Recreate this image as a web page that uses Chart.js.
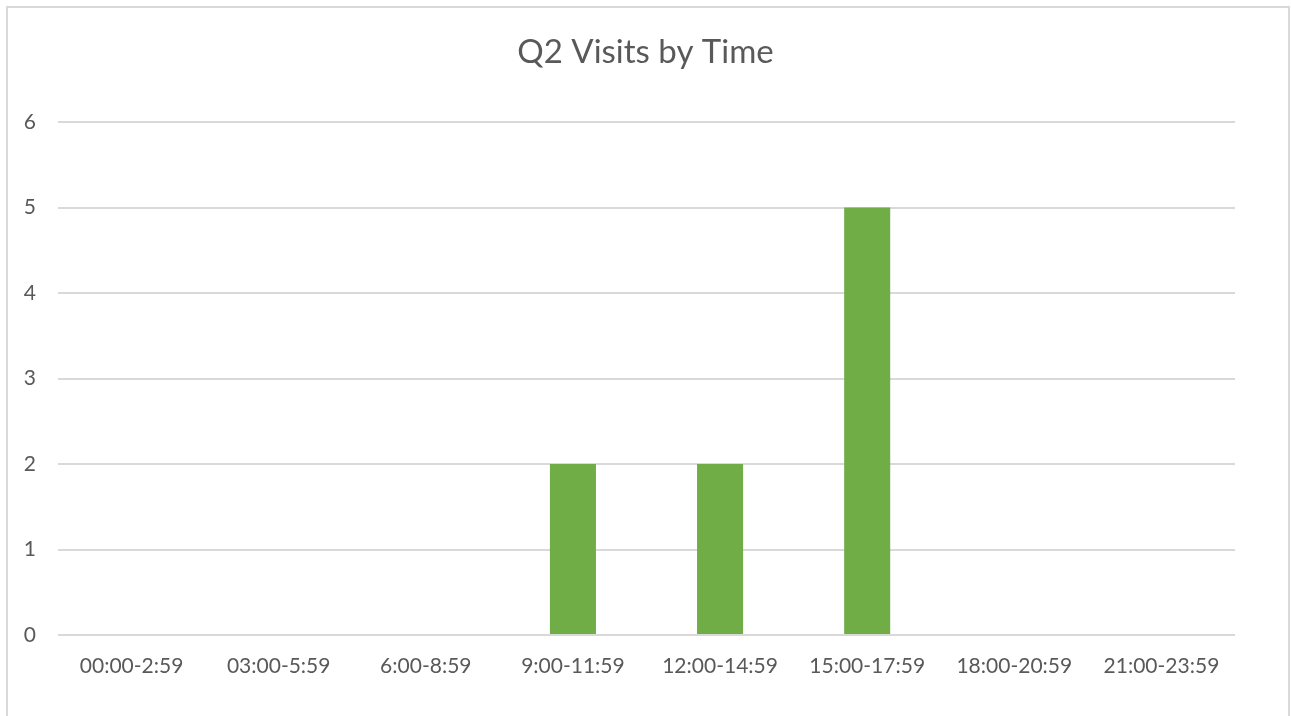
<!DOCTYPE html>
<html>
<head>
<meta charset="utf-8">
<script src="https://cdn.jsdelivr.net/npm/chart.js@4.4.1/dist/chart.umd.min.js"></script>
<style>
html,body{margin:0;padding:0;background:#fff;}
#wrap{position:absolute;left:0;top:0;width:1291px;height:716px;}
</style>
</head>
<body>
<div id="wrap"><canvas id="c" width="1291" height="716"></canvas></div>
<script>
const titleText = "Q2 Visits by Time";
const categories = ["00:00-2:59","03:00-5:59","6:00-8:59","9:00-11:59","12:00-14:59","15:00-17:59","18:00-20:59","21:00-23:59"];
const visits = [0,0,0,2,2,5,0,0];
const yTicks = [0,1,2,3,4,5,6];

const FONT = "Lato, 'Open Sans', 'Liberation Sans', sans-serif";
const TEXT = "#595959";

const borderPlugin = {
  id: 'frame',
  beforeDraw(chart) {
    const ctx = chart.ctx;
    ctx.save();
    ctx.fillStyle = '#fff';
    ctx.fillRect(0,0,chart.width,chart.height);
    ctx.strokeStyle = '#d9d9d9';
    ctx.lineWidth = 2;
    ctx.strokeRect(7, 7, 1282, 800);
    ctx.restore();
  }
};

new Chart(document.getElementById('c'), {
  type: 'bar',
  data: {
    labels: categories,
    datasets: [{
      data: visits,
      backgroundColor: '#70AD47',
      borderWidth: 0,
      categoryPercentage: 1,
      barPercentage: 0.313
    }]
  },
  options: {
    responsive: false,
    animation: false,
    devicePixelRatio: 1,
    layout: { padding: { left: 0, right: 0, top: 0, bottom: 0 } },
    plugins: {
      legend: { display: false },
      tooltip: { enabled: false },
      title: {
        display: true,
        text: titleText,
        color: TEXT,
        font: { family: FONT, size: 33, weight: 'normal', lineHeight: 1.2 },
        padding: { top: 33, bottom: 49.4 }
      }
    },
    scales: {
      x: {
        grid: { display: false, drawTicks: false },
        border: { display: false },
        ticks: { color: TEXT, font: { family: FONT, size: 21 }, padding: 19, maxRotation: 0, autoSkip: false },
        afterFit(scale) { scale.height = 81; }
      },
      y: {
        min: 0, max: 6,
        afterBuildTicks(scale) { scale.ticks = yTicks.map(v => ({ value: v })); },
        grid: { color: '#d9d9d9', lineWidth: 2, drawTicks: false },
        border: { display: false },
        ticks: { color: TEXT, font: { family: FONT, size: 21 }, padding: 22 },
        afterFit(scale) { scale.width = 58; }
      },
      yRight: {
        position: 'right',
        min: 0, max: 6,
        grid: { display: false, drawTicks: false },
        border: { display: false },
        ticks: { display: false },
        afterFit(scale) { scale.width = 56; }
      }
    }
  },
  plugins: [borderPlugin]
});
</script>
</body>
</html>
